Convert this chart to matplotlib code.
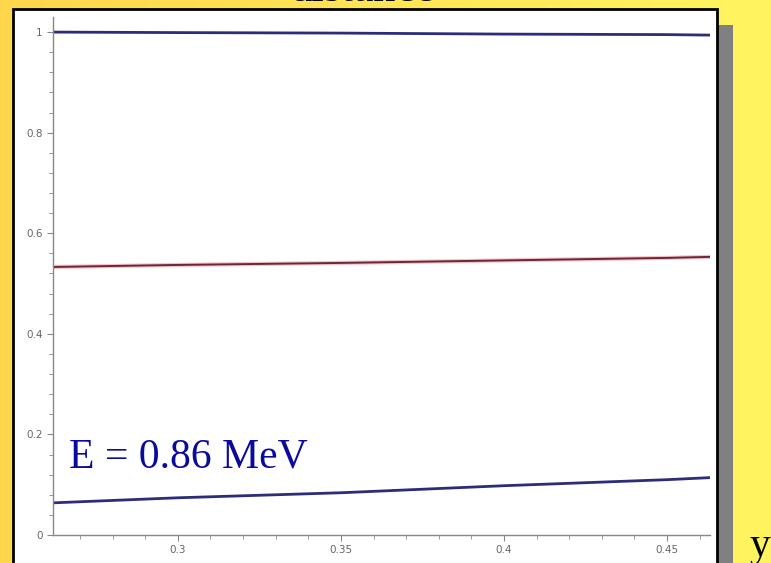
import matplotlib.pyplot as plt
import numpy as np
from matplotlib.patches import Rectangle

# data
x_vals = [0.262, 0.30, 0.35, 0.40, 0.45, 0.463]
top_line = [1.0, 0.999, 0.998, 0.996, 0.995, 0.994]
mid_line = [0.533, 0.537, 0.541, 0.546, 0.551, 0.553]
low_line = [0.064, 0.074, 0.084, 0.098, 0.110, 0.114]

x_ticks = [0.3, 0.35, 0.4, 0.45]
x_labels = ["0.3", "0.35", "0.4", "0.45"]
y_ticks = [0, 0.2, 0.4, 0.6, 0.8, 1]
y_labels = ["0", "0.2", "0.4", "0.6", "0.8", "1"]

W, H = 771, 563
fig = plt.figure(figsize=(W / 100, H / 100), dpi=100)

# ============================================================
# slide background: orange-yellow to yellow gradient
# ============================================================
bg = fig.add_axes([0, 0, 1, 1])
bg.set_xlim(0, W)
bg.set_ylim(H, 0)
bg.axis("off")
c0 = np.array([1.0, 0.84, 0.30])
c1 = np.array([1.0, 0.96, 0.38])
t = np.linspace(0, 1, 256)
grad = (c0[None, :] * (1 - t[:, None]) + c1[None, :] * t[:, None])[None, :, :]
bg.imshow(grad, extent=[0, W, H, 0], aspect="auto", zorder=0)

# shadow + white panel
bg.add_patch(Rectangle((717, 25), 16, H, facecolor="#808080", edgecolor="none", zorder=1))
bg.add_patch(Rectangle((13, 9), 704, H, facecolor="white", edgecolor="black", linewidth=2, zorder=2))

# title mostly cut off by the top edge, as on the slide
bg.text(362, 10, "distance", fontsize=32, family="Liberation Serif", ha="center", va="bottom", zorder=3)
bg.text(749, 556, "y", fontsize=30, family="Liberation Serif", ha="left", va="baseline", zorder=3)

# ============================================================
# data axes
# ============================================================
ax = fig.add_axes([53 / W, 28 / H, 657 / W, 518 / H])
ax.patch.set_alpha(0)
ax.plot(x_vals, top_line, color="#2c2c7a", linewidth=2)
ax.plot(x_vals, mid_line, color="#e89aa0", linewidth=3, alpha=0.6)
ax.plot(x_vals, mid_line, color="#6e2636", linewidth=1.4)
ax.plot(x_vals, low_line, color="#2c2c7a", linewidth=2)

ax.set_xlim(0.2617, 0.4632)
ax.set_ylim(0, 1.03)
ax.set_xticks(x_ticks, x_labels)
ax.set_yticks(y_ticks, y_labels)
ax.set_xticks(np.arange(0.27, 0.47, 0.01), minor=True)
ax.set_yticks(np.arange(0, 1.01, 0.04), minor=True)

for s in ["top", "right"]:
    ax.spines[s].set_visible(False)
for s in ["left", "bottom"]:
    ax.spines[s].set_color("#888888")
    ax.spines[s].set_linewidth(1)
ax.tick_params(which="both", direction="out", colors="#888888", labelcolor="#666666", labelsize=7.5)
ax.tick_params(which="major", length=4)
ax.tick_params(which="minor", length=3)

ax.text(0.2665, 0.135, "E = 0.86 MeV", fontsize=30, family="Liberation Serif", color="#0a0a9c")

plt.savefig("out.png", dpi=100)
